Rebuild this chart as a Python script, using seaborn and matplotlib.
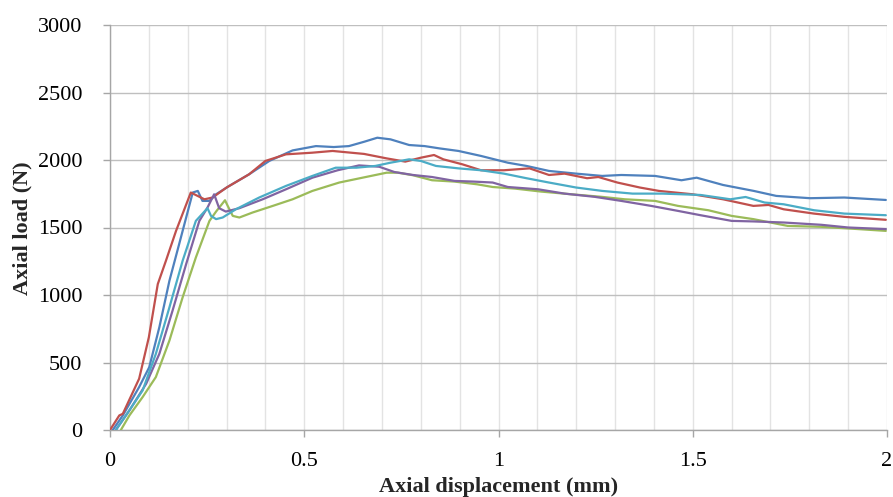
import numpy as np
import pandas as pd
import matplotlib
matplotlib.use("Agg")
import matplotlib.pyplot as plt
import seaborn as sns

blue_x = [0.007,0.033,0.075,0.101,0.127,0.153,0.178,0.213,0.226,0.238,0.256,0.273,0.307,0.358,0.41,0.47,0.53,0.576,0.615,0.654,0.688,0.722,0.77,0.81,0.848,0.897,0.955,1.024,1.072,1.13,1.2,1.267,1.316,1.403,1.471,1.51,1.578,1.657,1.715,1.802,1.89,1.997]
blue_y = [0,108,318,465,761,1106,1377,1759,1771,1697,1697,1746,1808,1894,1993,2071,2103,2096,2103,2135,2165,2153,2111,2103,2086,2067,2030,1980,1956,1919,1899,1882,1889,1882,1850,1869,1815,1771,1734,1717,1722,1704]

red_x = [0,0.024,0.033,0.075,0.1,0.123,0.144,0.17,0.208,0.243,0.264,0.3,0.358,0.4,0.453,0.52,0.573,0.654,0.712,0.76,0.8,0.834,0.858,0.907,0.955,1.014,1.08,1.13,1.17,1.228,1.257,1.306,1.364,1.413,1.5,1.578,1.656,1.695,1.734,1.812,1.89,1.997]
red_y = [0,108,120,380,687,1081,1254,1475,1759,1709,1722,1796,1894,1993,2042,2054,2067,2045,2012,1988,2017,2037,2005,1968,1924,1924,1938,1889,1899,1865,1874,1833,1796,1771,1746,1709,1660,1667,1635,1603,1579,1557]

green_x = [0.028,0.05,0.084,0.118,0.153,0.187,0.221,0.256,0.273,0.296,0.303,0.316,0.333,0.367,0.419,0.47,0.521,0.59,0.65,0.712,0.741,0.78,0.829,0.887,0.945,0.985,1.043,1.11,1.188,1.266,1.325,1.403,1.462,1.54,1.6,1.656,1.744,1.83,1.9,1.997]
green_y = [0,108,244,392,663,983,1278,1549,1618,1702,1660,1586,1574,1611,1660,1709,1771,1833,1869,1906,1906,1887,1850,1840,1820,1800,1788,1766,1746,1727,1709,1697,1660,1628,1586,1562,1512,1505,1493,1475]

purple_x = [0.015,0.05,0.093,0.127,0.161,0.196,0.23,0.251,0.268,0.281,0.298,0.333,0.393,0.453,0.521,0.586,0.641,0.693,0.732,0.78,0.829,0.887,0.936,0.985,1.024,1.102,1.17,1.248,1.316,1.393,1.462,1.52,1.6,1.656,1.734,1.831,1.9,1.997]
purple_y = [0,145,342,564,884,1229,1549,1648,1746,1643,1618,1643,1709,1783,1869,1924,1960,1950,1911,1889,1874,1845,1840,1833,1800,1783,1751,1727,1697,1660,1623,1591,1549,1545,1537,1520,1500,1488]

cyan_x = [0.015,0.041,0.084,0.118,0.153,0.187,0.221,0.251,0.26,0.273,0.29,0.324,0.384,0.453,0.521,0.581,0.634,0.683,0.722,0.77,0.8,0.839,0.897,0.955,1.014,1.072,1.13,1.2,1.267,1.345,1.423,1.52,1.597,1.636,1.685,1.734,1.812,1.89,1.997]
cyan_y = [0,108,293,564,909,1254,1549,1643,1586,1562,1574,1635,1722,1808,1882,1943,1943,1956,1980,2005,1993,1956,1938,1924,1899,1865,1833,1796,1771,1751,1751,1741,1709,1726,1685,1672,1628,1603,1591]

series = [("S1", blue_x, blue_y), ("S2", red_x, red_y), ("S3", green_x, green_y),
          ("S4", purple_x, purple_y), ("S5", cyan_x, cyan_y)]
colors = {"S1": "#4F81BD", "S2": "#C0504D", "S3": "#9BBB59", "S4": "#8064A2", "S5": "#4BACC6"}

frames = []
for name, xs, ys in series:
    frames.append(pd.DataFrame({"disp": xs, "load": ys, "spec": name, "order": range(len(xs))}))
df = pd.concat(frames, ignore_index=True)

sns.set_theme(style="white")
plt.rcParams['font.family'] = ['Liberation Serif', 'DejaVu Serif']

fig = plt.figure(figsize=(8.93, 4.97), dpi=100)
ax = fig.add_axes([110/893, 1-430/497, 777/893, 405/497])

sns.lineplot(data=df, x="disp", y="load", hue="spec", palette=colors, sort=False,
             estimator=None, units=None, linewidth=1.6, legend=False, ax=ax, zorder=3)

ax.set_xlim(0, 2)
ax.set_ylim(0, 3000)
ax.set_xticks([0, 0.5, 1, 1.5, 2])
ax.set_xticklabels(["0", "0.5", "1", "1.5", "2"])
ax.set_xticks(np.arange(0, 2.001, 0.1), minor=True)
ax.set_yticks(np.arange(0, 3001, 500))
ax.set_yticklabels([str(v) for v in range(0, 3001, 500)])

ax.grid(which='minor', axis='x', color='#E3E3E3', linewidth=1.0)
ax.grid(which='major', axis='x', color='#E3E3E3', linewidth=1.0)
ax.grid(which='major', axis='y', color='#BFBFBF', linewidth=1.0)
ax.set_axisbelow(True)

for s in ['top', 'right']:
    ax.spines[s].set_visible(False)
for s in ['left', 'bottom']:
    ax.spines[s].set_color('#A6A6A6')
    ax.spines[s].set_linewidth(1.0)

ax.tick_params(axis='both', which='major', labelsize=16, colors='#A6A6A6',
               labelcolor='black', length=5, width=1.0)
ax.tick_params(axis='y', which='major', direction='out', left=True, pad=15)
ax.tick_params(axis='x', which='major', direction='out', bottom=True, pad=11)
ax.tick_params(axis='x', which='minor', bottom=False)

ax.set_xlabel("")
ax.set_ylabel("")
fig.text(499/893, 1-487/497, "Axial displacement (mm)", ha='center', va='center',
         fontsize=16, fontweight='bold')
fig.text(22/893, 1-228/497, "Axial load (N)", ha='center', va='center',
         fontsize=16, fontweight='bold', rotation=90)

fig.savefig("out.png", dpi=100)
